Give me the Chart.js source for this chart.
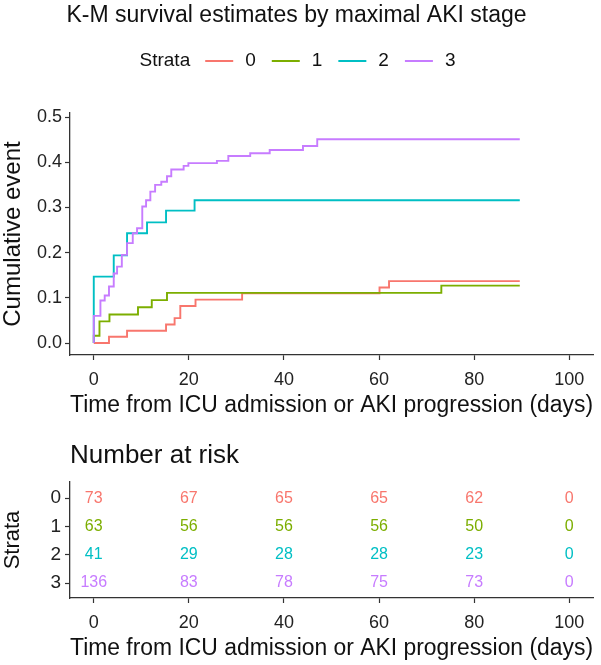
<!DOCTYPE html>
<html lang="en">
<head>
<meta charset="UTF-8">
<title>K-M survival estimates by maximal AKI stage</title>
<script src="https://cdn.jsdelivr.net/npm/chart.js@4.4.2/dist/chart.umd.min.js"></script>
<style>
  html, body { margin: 0; padding: 0; background: #fff; }
  #wrap { position: relative; width: 601px; height: 665px; }
  .box { position: absolute; left: 0; width: 601px; }
  #kmBox { top: 0; height: 425px; }
  #riskBox { top: 425px; height: 240px; }
</style>
</head>
<body>
<div id="wrap">
  <div class="box" id="kmBox"><canvas id="kmChart"></canvas></div>
  <div class="box" id="riskBox"><canvas id="riskChart"></canvas></div>
</div>
<script>
// strata and colours (ggplot default hues)
const strata = ['0', '1', '2', '3'];
const colors = ['#F8766D', '#7CAE00', '#00BFC4', '#C77CFF'];

// cumulative event curves (days, cumulative event)
const time0 = [0, 3.2, 7.0, 15.2, 17.0, 18.2, 21.4, 31.2, 60.1, 62.1, 89.6];
const cum0  = [0, 0.014, 0.027, 0.041, 0.055, 0.082, 0.096, 0.110, 0.123, 0.137, 0.137];

const time1 = [0, 0, 1.2, 3.3, 9.3, 12.2, 15.4, 73.1, 89.6];
const cum1  = [0, 0.016, 0.048, 0.063, 0.079, 0.095, 0.111, 0.127, 0.127];

const time2 = [0, 0, 4.2, 7.0, 11.2, 15.2, 21.2, 89.6];
const cum2  = [0, 0.147, 0.194, 0.243, 0.267, 0.293, 0.316, 0.316];

const time3 = [0, 0, 1.4, 2.3, 3.2, 4.2, 4.9, 5.9, 7.0, 8.2, 9.1, 10.2, 11.0, 11.9, 12.9,
               14.2, 15.4, 16.3, 18.9, 19.9, 25.9, 28.3, 32.9, 37.0, 44.0, 47.0, 89.6];
const cum3  = [0, 0.060, 0.094, 0.105, 0.125, 0.154, 0.169, 0.195, 0.221, 0.243, 0.254, 0.302, 0.316, 0.335, 0.350,
               0.357, 0.369, 0.384, 0.392, 0.398, 0.403, 0.414, 0.420, 0.427, 0.436, 0.451, 0.451];

// number at risk table
const riskTimes = [0, 20, 40, 60, 80, 100];
const risk0 = [73, 67, 65, 65, 62, 0];
const risk1 = [63, 56, 56, 56, 50, 0];
const risk2 = [41, 29, 28, 28, 23, 0];
const risk3 = [136, 83, 78, 75, 73, 0];

// tick labels
const xTicks = [0, 20, 40, 60, 80, 100];
const yTicks = [0, 0.1, 0.2, 0.3, 0.4, 0.5];

const FONT = "'Liberation Sans', Arial, sans-serif";
const times = [time0, time1, time2, time3];
const cums = [cum0, cum1, cum2, cum3];
const risks = [risk0, risk1, risk2, risk3];

Chart.defaults.font.family = FONT;
Chart.defaults.color = '#222';

function axisStyle() {
  return {
    grid: { display: true, drawOnChartArea: false, drawTicks: true, tickLength: 5, tickColor: '#333', tickWidth: 1.2 },
    border: { display: true, color: '#333', width: 1.3 }
  };
}

// legend drawn inline: "Strata  — 0  — 1  — 2  — 3"
const strataLegend = {
  id: 'strataLegend',
  afterDraw(chart) {
    const ctx = chart.ctx;
    const y = 61;
    ctx.save();
    ctx.font = '19px ' + FONT;
    ctx.textBaseline = 'middle';
    ctx.textAlign = 'left';
    const lineW = 28, gapA = 15, gapB = 12, gapC = 16;
    let total = ctx.measureText('Strata').width;
    strata.forEach(s => { total += gapA + lineW + gapB + ctx.measureText(s).width; });
    total += (strata.length - 1) * (gapC - gapA);
    let x = chart.width / 2 - 3 - total / 2;
    ctx.fillStyle = '#111';
    ctx.fillText('Strata', x, y);
    x += ctx.measureText('Strata').width + gapA;
    strata.forEach((s, i) => {
      ctx.strokeStyle = colors[i];
      ctx.lineWidth = 2;
      ctx.beginPath();
      ctx.moveTo(x, y);
      ctx.lineTo(x + lineW, y);
      ctx.stroke();
      x += lineW + gapB;
      ctx.fillStyle = '#111';
      ctx.fillText(s, x, y);
      x += ctx.measureText(s).width + gapC;
    });
    ctx.restore();
  }
};

new Chart(document.getElementById('kmChart'), {
  type: 'line',
  data: {
    datasets: strata.map((s, i) => ({
      label: s,
      data: times[i].map((t, j) => ({ x: t, y: cums[i][j] })),
      borderColor: colors[i],
      borderWidth: 1.9,
      pointRadius: 0,
      stepped: true,
      fill: false,
      order: 3 - i
    }))
  },
  options: {
    responsive: true,
    maintainAspectRatio: false,
    animation: false,
    layout: { padding: { right: 8 } },
    plugins: {
      legend: { display: false },
      tooltip: { enabled: false },
      title: {
        display: true,
        text: 'K-M survival estimates by maximal AKI stage',
        color: '#111',
        font: { size: 23, weight: 'normal', lineHeight: 1 },
        padding: { top: 4, bottom: 86 }
      }
    },
    scales: {
      x: Object.assign(axisStyle(), {
        type: 'linear',
        min: -5,
        max: 105,
        afterBuildTicks: axis => { axis.ticks = xTicks.map(v => ({ value: v })); },
        afterFit: axis => { axis.height = 70; },
        ticks: { font: { size: 18 }, padding: 9, color: '#222' },
        title: { display: true, text: 'Time from ICU admission or AKI progression (days)', color: '#111',
                 font: { size: 23, lineHeight: 1 }, padding: { bottom: 8 } }
      }),
      y: Object.assign(axisStyle(), {
        type: 'linear',
        min: -0.0265,
        max: 0.509,
        afterBuildTicks: axis => { axis.ticks = yTicks.map(v => ({ value: v })); },
        afterFit: axis => { axis.width = 70; },
        ticks: { font: { size: 18 }, padding: 3, color: '#222', callback: v => v.toFixed(1) },
        title: { display: true, text: 'Cumulative event', color: '#111',
                 font: { size: 24, lineHeight: 1 }, padding: { top: 1 } }
      })
    }
  },
  plugins: [strataLegend]
});

// numbers at risk, written at the points the scales give
const riskLabels = {
  id: 'riskLabels',
  afterDatasetsDraw(chart) {
    const ctx = chart.ctx;
    ctx.save();
    ctx.font = '16px ' + FONT;
    ctx.textAlign = 'center';
    ctx.textBaseline = 'middle';
    chart.data.datasets.forEach((ds, i) => {
      const meta = chart.getDatasetMeta(i);
      ctx.fillStyle = colors[i];
      meta.data.forEach((el, j) => {
        ctx.fillText(String(risks[i][j]), el.x, el.y);
      });
    });
    ctx.restore();
  }
};

new Chart(document.getElementById('riskChart'), {
  type: 'scatter',
  data: {
    datasets: strata.map((s, i) => ({
      label: s,
      data: riskTimes.map(t => ({ x: t, y: i })),
      pointRadius: 0,
      showLine: false
    }))
  },
  options: {
    responsive: true,
    maintainAspectRatio: false,
    animation: false,
    layout: { padding: { right: 8 } },
    plugins: {
      legend: { display: false },
      tooltip: { enabled: false },
      title: {
        display: true,
        text: 'Number at risk',
        align: 'start',
        fullSize: false,
        color: '#111',
        font: { size: 26, weight: 'normal', lineHeight: 1 },
        padding: { top: 18, bottom: 13 }
      }
    },
    scales: {
      x: Object.assign(axisStyle(), {
        type: 'linear',
        min: -5,
        max: 105,
        afterBuildTicks: axis => { axis.ticks = xTicks.map(v => ({ value: v })); },
        afterFit: axis => { axis.height = 67; },
        ticks: { font: { size: 18 }, padding: 9, color: '#222' },
        title: { display: true, text: 'Time from ICU admission or AKI progression (days)', color: '#111',
                 font: { size: 23, lineHeight: 1 }, padding: { bottom: 5 } }
      }),
      y: Object.assign(axisStyle(), {
        type: 'linear',
        reverse: true,
        min: -0.57,
        max: 3.53,
        afterBuildTicks: axis => { axis.ticks = strata.map((s, i) => ({ value: i })); },
        afterFit: axis => { axis.width = 70; },
        ticks: { font: { size: 19 }, padding: 4, color: '#222', callback: v => strata[v] },
        title: { display: true, text: 'Strata', color: '#111',
                 font: { size: 22, lineHeight: 1 }, padding: { top: 2 } }
      })
    }
  },
  plugins: [riskLabels]
});
</script>
</body>
</html>
